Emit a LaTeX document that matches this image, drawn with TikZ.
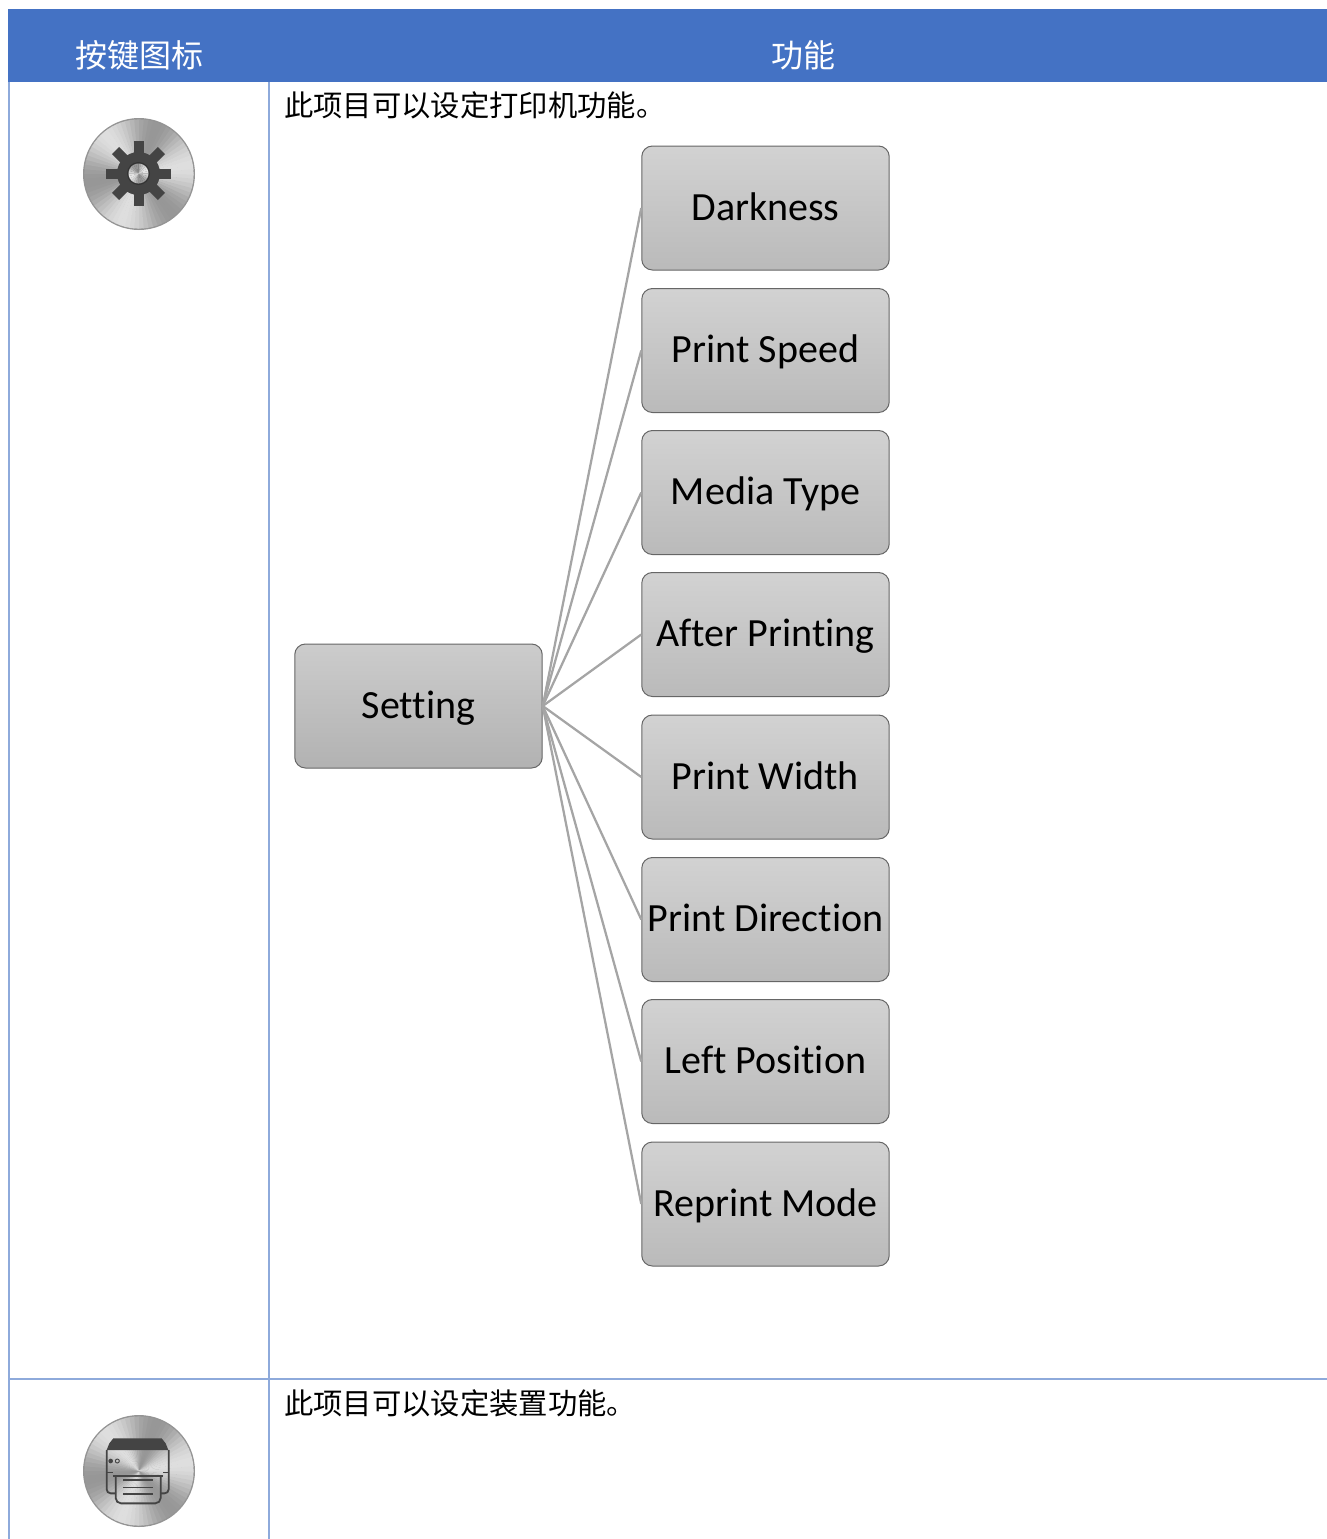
\documentclass[tikz,border=0pt]{standalone}
\usepackage{fontspec}
\setmainfont{Carlito}[Ligatures=NoCommon]
\newfontfamily\cjk{Noto Sans CJK SC}
\definecolor{headblue}{HTML}{4472C4}
\definecolor{gridblue}{HTML}{8EAADB}
\definecolor{linkgray}{HTML}{A5A5A5}
\definecolor{boxedge}{HTML}{666666}
\definecolor{icondark}{HTML}{444444}
\definecolor{boxtop}{HTML}{D2D2D2}
\definecolor{boxbot}{HTML}{BABABA}
\definecolor{roottop}{HTML}{CCCCCC}
\definecolor{rootbot}{HTML}{B2B2B2}
\newcommand{\metaldisc}[3]{%
  \fill[white!58!black] (#1,#2) circle[radius=#3];
  \foreach \a in {0,5,...,355}{
    \pgfmathsetmacro{\v}{73+14*cos(3*(-\a-2.5-10))}
    \fill[white!\v!black,draw=none] (#1,#2) -- ++(\a:#3*0.975) arc[start angle=\a,delta angle=5.6,radius=#3*0.975] -- cycle;
  }
}
\tikzset{
  x=0.75pt,y=-0.75pt,
  childbox/.style={draw=boxedge,line width=0.75pt,rounded corners=8pt,top color=boxtop,bottom color=boxbot,
    minimum width=185.6pt,minimum height=93pt,inner sep=0pt,font=\fontsize{30}{34}\selectfont,
    text=black,text height=20.5pt,text depth=2pt},
  rootbox/.style={childbox,top color=roottop,bottom color=rootbot},
  link/.style={draw=linkgray,line width=1.7pt},
  grid/.style={draw=gridblue,line width=1.6pt},
  headtext/.style={text=white,font=\cjk\fontsize{24}{28}\selectfont,inner sep=0pt},
  bodytext/.style={text=black,font=\cjk\fontsize{22}{26}\selectfont,inner sep=0pt,anchor=west},
}
\begin{document}
\begin{tikzpicture}
\useasboundingbox (0,0) rectangle (1327,1539);
% table
\fill[headblue] (8,9) rectangle (1327,82);
\draw[grid] (9,82) -- (9,1539);
\draw[grid] (269,82) -- (269,1539);
\draw[grid] (9,1379) -- (1327,1379);
\node[headtext] (h1) at (139,55) {按键图标};
\node[headtext] (h2) at (803,55) {功能};
\node[bodytext] (t1) at (284,105) {此项目可以设定打印机功能。};
\node[bodytext] (t2) at (284,1403) {此项目可以设定装置功能。};
% boxes
\node[rootbox] (root) at (418.5,706) {Setting};
\node[childbox] (c1) at (765.5,208) {Darkness};
\node[childbox] (c2) at (765.5,350.5) {Print Speed};
\node[childbox] (c3) at (765.5,492.5) {Media Type};
\node[childbox] (c4) at (765.5,634.5) {After Printing};
\node[childbox] (c5) at (765.5,777) {Print Width};
\node[childbox] (c6) at (765.5,919.5) {Print Direction};
\node[childbox] (c7) at (765.5,1061.5) {Left Position};
\node[childbox] (c8) at (765.5,1204) {Reprint Mode};
\foreach \n in {c1,c2,c3,c4,c5,c6,c7,c8}{
  \draw[link] (root.east) -- (\n.west);
}
% gear icon
\metaldisc{139}{174}{56}
\begin{scope}[shift={(138.5,173.5)}]
  \fill[icondark] (0,0) circle[radius=21.5];
  \foreach \r in {0,45,...,315}{
    \fill[icondark,rotate=\r] (-5,-32.5) rectangle (5,0);
  }
  \fill[black!80!white] (0,0) circle[radius=11.5];
\end{scope}
\foreach \a in {0,15,...,345}{
  \pgfmathsetmacro{\v}{74+16*cos(2*(-\a-7.5-20))}
  \fill[white!\v!black] (138.5,173.5) -- ++(\a:10) arc[start angle=\a,delta angle=15.8,radius=10] -- cycle;
}
% printer icon
\metaldisc{139}{1471}{56}
\begin{scope}[shift={(50,1370)},x=0.25pt,y=-0.25pt]
  \fill[icondark] (170,240) -- (178,220) -- (190,205) -- (335,205) -- (347,220) -- (355,240) -- cycle;
  \draw[icondark,line width=1.35pt,rounded corners=3pt,line join=round] (170,240) -- (170,370) -- (197,370);
  \draw[icondark,line width=1.35pt,rounded corners=3pt,line join=round] (356,240) -- (356,370) -- (332,370);
  \draw[icondark,line width=0.5pt] (170,306) -- (190,306) (340,306) -- (356,306);
  \draw[icondark,line width=1.35pt,rounded corners=4pt] (197,318) -- (197,400) -- (332,400) -- (332,318);
  \draw[icondark,line width=1.35pt] (190,318) -- (340,318);
  \foreach \yy in {330,352,372}{
    \draw[icondark,line width=1.2pt] (220,\yy) -- (308,\yy);
  }
  \fill[icondark] (182,273) circle[radius=7];
  \draw[icondark,line width=0.7pt] (202,273) circle[radius=6];
\end{scope}
\end{tikzpicture}
\end{document}
